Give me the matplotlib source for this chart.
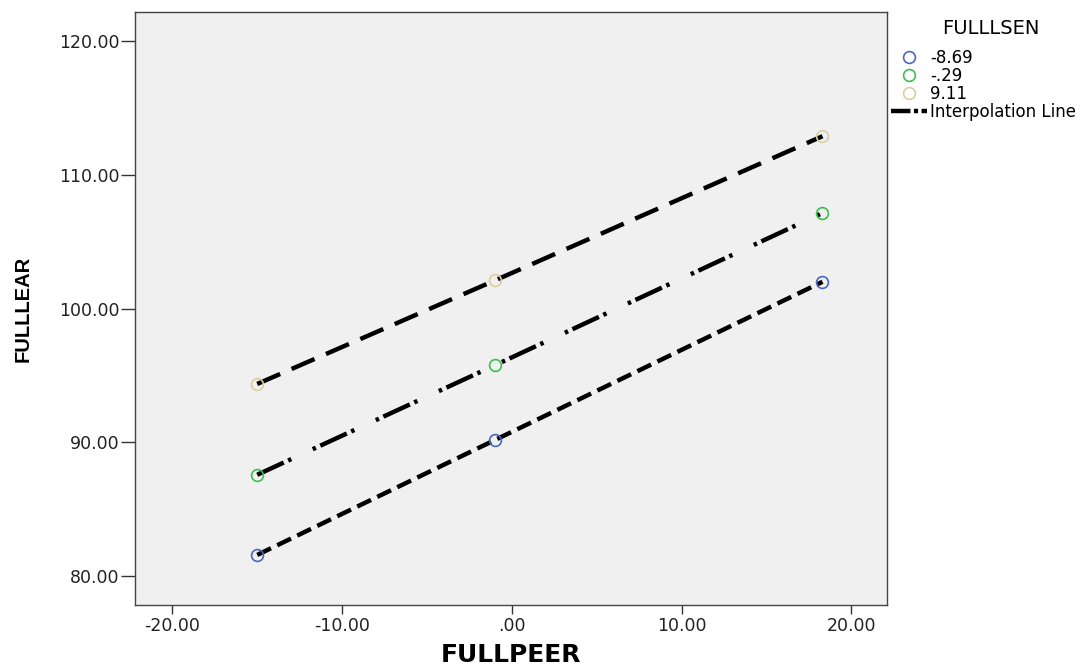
import matplotlib
matplotlib.use('Agg')
import matplotlib.pyplot as plt
import matplotlib.ticker as ticker
from matplotlib.lines import Line2D

plt.rcParams['font.family'] = ['DejaVu Sans']
plt.rcParams['lines.scale_dashes'] = False

# FULLPEER at the three plotted levels
peer = [-15.0, -1.0, 18.3]
# FULLLEAR for each FULLLSEN group
groups = ['-8.69', '-.29', '9.11']
lear = {
    '-8.69': [81.55, 90.15, 102.0],
    '-.29': [87.55, 95.75, 107.15],
    '9.11': [94.35, 102.1, 112.9],
}
colors = {'-8.69': '#4a67c2', '-.29': '#3cc04e', '9.11': '#d8cf9f'}
dashes = {
    '-8.69': (0, (11, 5)),
    '-.29': (0, (21, 3.5, 2.5, 17, 2.5, 3.5)),
    '9.11': (0, (18, 9)),
}

fig = plt.figure(figsize=(10.89, 6.68), dpi=100)
ax = fig.add_axes([135 / 1089, 63 / 668, 752 / 1089, 593 / 668])
ax.set_facecolor('#f0f0f0')

for g in groups:
    ax.plot(peer, lear[g], color='black', linewidth=3.2,
            linestyle=dashes[g], zorder=2)
    ax.plot(peer, lear[g], linestyle='none', marker='o', markersize=8.5,
            markerfacecolor='none', markeredgecolor=colors[g],
            markeredgewidth=1.2, zorder=3)

ax.set_xlim(-22.2, 22.1)
ax.set_ylim(77.8, 122.2)
ax.xaxis.set_major_locator(ticker.MultipleLocator(10))
ax.yaxis.set_major_locator(ticker.MultipleLocator(10))


def fmt(v, pos):
    s = '%.2f' % v
    if s in ('0.00', '-0.00'):
        s = '.00'
    return s


ax.xaxis.set_major_formatter(ticker.FuncFormatter(fmt))
ax.yaxis.set_major_formatter(ticker.FuncFormatter(fmt))
ax.tick_params(direction='out', width=1, colors='#333333',
               labelsize=12.5, labelcolor='#222222')
ax.tick_params(axis='x', length=6.5, pad=2)
ax.tick_params(axis='y', length=10, pad=1)
for s in ax.spines.values():
    s.set_color('#444444')
    s.set_linewidth(1)

ax.set_xlabel('FULLPEER', fontsize=18, fontweight='bold', labelpad=6)
ax.set_ylabel('FULLLEAR', fontsize=14.5, fontweight='bold',
              family=['Liberation Sans', 'DejaVu Sans'])
ax.yaxis.set_label_coords(-0.136, 0.5)

fig.text(991 / 1089, 1 - 29 / 668, 'FULLLSEN', fontsize=14,
         ha='center', va='center')

handles = [Line2D([], [], linestyle='none', marker='o', markersize=8.5,
                  markerfacecolor='none', markeredgecolor=colors[g],
                  markeredgewidth=1.2) for g in groups]
handles.append(Line2D([], [], color='black', linewidth=3.2,
                      linestyle=(0, (14, 2.5, 3, 2.5))))
leg = fig.legend(handles, groups + ['Interpolation Line'],
                 loc='upper left', bbox_to_anchor=(879 / 1089, 1 - 37 / 668),
                 frameon=False, fontsize=12,
                 handlelength=2.15, handletextpad=0.2, labelspacing=0.0,
                 borderpad=0.2)

fig.savefig('out.png', dpi=100)
